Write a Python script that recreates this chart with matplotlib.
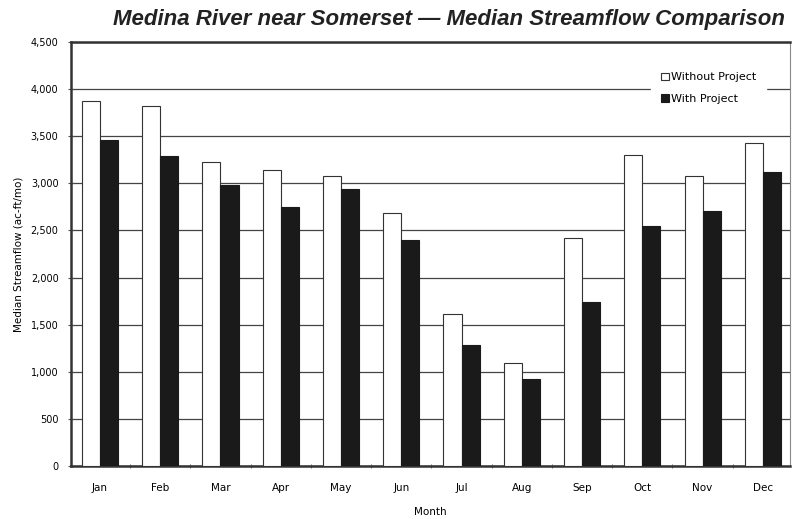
import numpy as np
import matplotlib.pyplot as plt

months = ["Jan", "Feb", "Mar", "Apr", "May", "Jun",
          "Jul", "Aug", "Sep", "Oct", "Nov", "Dec"]
without_project = [3870, 3820, 3225, 3140, 3075, 2685, 1615, 1095, 2420, 3300, 3075, 3425]
with_project = [3455, 3290, 2980, 2750, 2940, 2400, 1285, 925, 1740, 2545, 2705, 3120]
y_ticks = [0, 500, 1000, 1500, 2000, 2500, 3000, 3500, 4000, 4500]

fig = plt.figure(figsize=(7.95, 5.19), dpi=100)
ax = fig.add_axes([71 / 795, 53 / 519, 719 / 795, 424 / 519])

x = np.arange(len(months))
w = 0.3
ax.bar(x - w / 2, without_project, w, color="white", edgecolor="#333333",
       linewidth=0.8, label="Without Project", zorder=3)
ax.bar(x + w / 2, with_project, w, color="#1a1a1a", edgecolor="#1a1a1a",
       linewidth=0.8, label="With Project", zorder=3)

ax.set_xlim(-0.48, 11.45)
ax.set_ylim(0, 4500)
ax.set_yticks(y_ticks)
ax.set_yticklabels([f"{v:,}" for v in y_ticks], fontsize=7)
ax.set_xticks(x)
ax.set_xticklabels(months, fontsize=7.5)
ax.tick_params(axis="x", length=0, pad=12)
ax.set_xticks(x[:-1] + 0.5, minor=True)
ax.tick_params(axis="x", which="minor", length=3, direction="inout", color="#555555")
ax.tick_params(axis="y", length=4, direction="inout", color="#555555", pad=7)

ax.yaxis.grid(True, color="#444444", linewidth=0.9, zorder=1)
for s in ax.spines.values():
    s.set_linewidth(1.8)
    s.set_color("#333333")
ax.spines["right"].set_linewidth(0.8)
ax.spines["right"].set_color("#888888")

ax.set_ylabel("Median Streamflow (ac-ft/mo)", fontsize=7.5, labelpad=5)
ax.set_xlabel("Month", fontsize=7.5, labelpad=10)

leg = ax.legend(loc="upper right", bbox_to_anchor=(0.975, 0.965), fontsize=8,
                frameon=True, handlelength=0.7, handleheight=0.7,
                handletextpad=0.2, labelspacing=1.0, borderpad=0.9)
leg.get_frame().set_edgecolor("white")
leg.get_frame().set_alpha(1)

fig.text(0.987, 0.963, "Medina River near Somerset \u2014 Median Streamflow Comparison",
         ha="right", va="center", fontsize=16, fontweight="bold", style="italic",
         family="Liberation Sans", color="#222222")

fig.savefig("out.png", dpi=100)
